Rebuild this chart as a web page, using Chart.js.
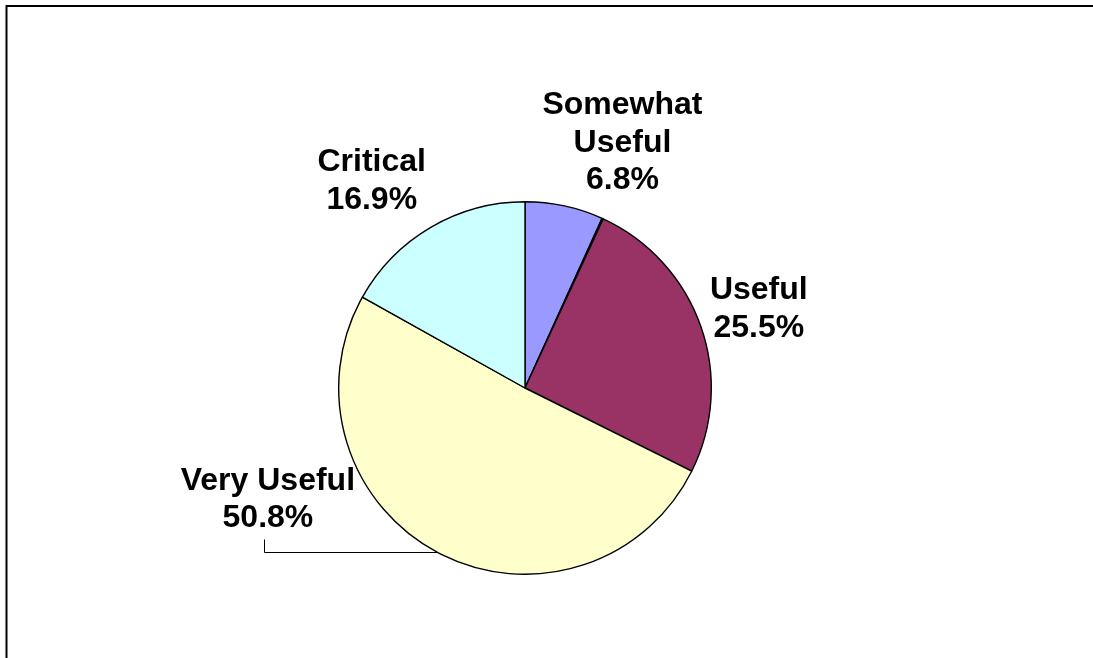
<!DOCTYPE html>
<html>
<head>
<meta charset="utf-8">
<script src="https://cdn.jsdelivr.net/npm/chart.js@4.4.1/dist/chart.umd.min.js"></script>
<style>
  html, body { margin: 0; padding: 0; background: #ffffff; }
  #wrap { position: relative; width: 1093px; height: 658px; }
</style>
</head>
<body>
<div id="wrap"><canvas id="c" width="1093" height="658"></canvas></div>
<script>
// ---- data ----
const categories = ['Somewhat Useful', 'Not Useful', 'Useful', 'Very Useful', 'Critical'];
const values = [6.8, 0.1, 25.5, 50.8, 16.9];
const labelLines = [['Somewhat', 'Useful'], [], ['Useful'], ['Very Useful'], ['Critical']];
const percentLabels = ['6.8%', '', '25.5%', '50.8%', '16.9%'];
const sliceColors = ['#9999FF', '#8484EE', '#993366', '#FFFFCC', '#CCFFFF'];

// ---- label layout (offset from the slice's outer-rim midpoint) ----
const labelOffsets = [[58, -63], null, [58, -17], [-170, -53], [-59, -46]];
const leaderFor = [false, false, false, true, false];

const labelPlugin = {
  id: 'pieLabels',
  beforeDraw(chart) {
    const ctx = chart.ctx;
    ctx.save();
    ctx.fillStyle = '#ffffff';
    ctx.fillRect(0, 0, chart.width, chart.height);
    ctx.strokeStyle = '#000000';
    ctx.lineWidth = 2;
    ctx.strokeRect(6.5, 6, 3000, 3000);
    ctx.restore();
  },
  afterDatasetsDraw(chart) {
    const ctx = chart.ctx;
    const meta = chart.getDatasetMeta(0);
    ctx.save();
    ctx.font = 'bold 32px "Liberation Sans", Arial, sans-serif';
    ctx.fillStyle = '#000000';
    ctx.textAlign = 'center';
    ctx.textBaseline = 'middle';
    const lineH = 37.5;
    meta.data.forEach((arc, i) => {
      const off = labelOffsets[i];
      if (!off) return;
      const p = arc.getProps(['x', 'y', 'startAngle', 'endAngle', 'outerRadius'], true);
      const mid = (p.startAngle + p.endAngle) / 2;
      const rx = p.x + p.outerRadius * Math.cos(mid);
      const ry = p.y + p.outerRadius * Math.sin(mid);
      const cx = rx + off[0];
      const cy = ry + off[1];
      const lines = labelLines[i].concat([percentLabels[i]]);
      const top = cy - (lines.length - 1) * lineH / 2;
      lines.forEach((t, k) => ctx.fillText(t, cx, top + k * lineH));
      if (leaderFor[i]) {
        const lx = Math.round(cx - 4) + 0.5;
        const ly0 = top + (lines.length - 1) * lineH + 21;
        const ly1 = Math.round(ry) - 0.5;
        ctx.beginPath();
        ctx.strokeStyle = '#000000';
        ctx.lineWidth = 1;
        ctx.moveTo(lx, ly0);
        ctx.lineTo(lx, ly1);
        ctx.lineTo(rx, ly1);
        ctx.stroke();
      }
    });
    ctx.restore();
  }
};

new Chart(document.getElementById('c'), {
  type: 'pie',
  data: {
    labels: categories,
    datasets: [{
      data: values,
      backgroundColor: sliceColors,
      borderColor: '#000000',
      borderWidth: 1.4
    }]
  },
  options: {
    responsive: false,
    animation: false,
    layout: { padding: { left: 338, right: 381, top: 201, bottom: 83 } },
    plugins: {
      legend: { display: false },
      tooltip: { enabled: false },
      title: { display: false }
    }
  },
  plugins: [labelPlugin]
});
</script>
</body>
</html>
